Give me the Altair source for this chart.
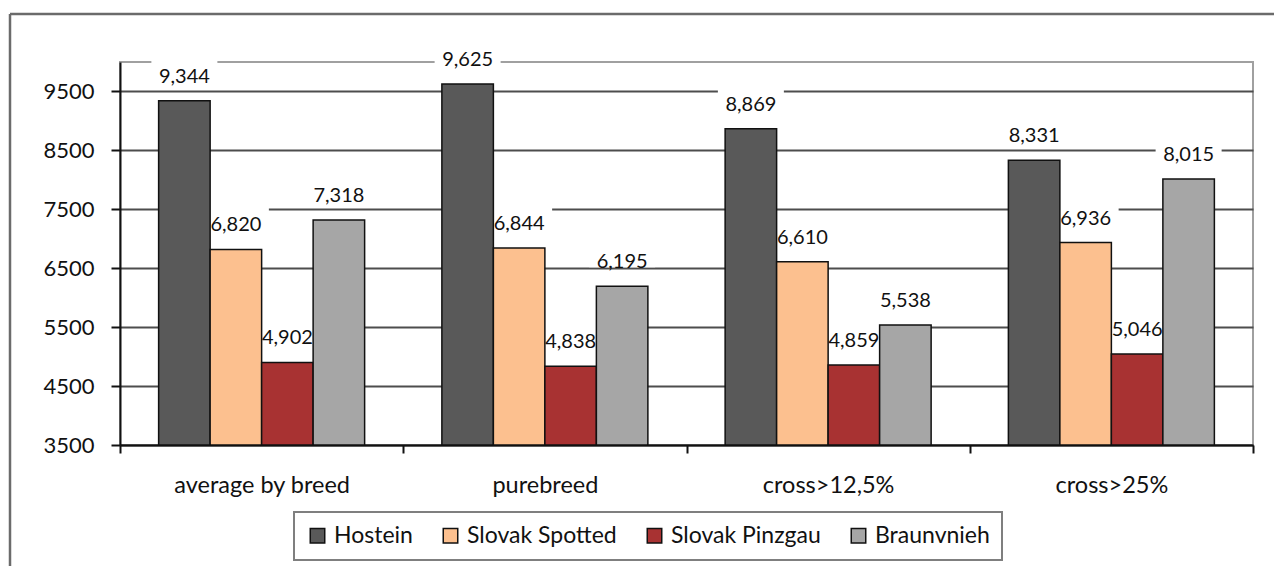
import altair as alt
import pandas as pd

categories = ["average by breed", "purebreed", "cross>12,5%", "cross>25%"]
series = ["Hostein", "Slovak Spotted", "Slovak Pinzgau", "Braunvnieh"]
hostein = [9344, 9625, 8869, 8331]
slovak_spotted = [6820, 6844, 6610, 6936]
slovak_pinzgau = [4902, 4838, 4859, 5046]
braunvnieh = [7318, 6195, 5538, 8015]
y_ticks = [3500, 4500, 5500, 6500, 7500, 8500, 9500]
colors = ["#595959", "#FCC08F", "#A83232", "#A6A6A6"]

rows = []
for s, vals in zip(series, [hostein, slovak_spotted, slovak_pinzgau, braunvnieh]):
    for c, v in zip(categories, vals):
        rows.append({"category": c, "breed": s, "value": v})
df = pd.DataFrame(rows)

FONT = "Lato"
W, H = 1133, 383

x_enc = alt.X(
    "category:N", sort=categories,
    scale=alt.Scale(paddingInner=0, paddingOuter=0),
    axis=alt.Axis(title=None, labelAngle=0, tickBand="extent", tickSize=8, tickColor="#111",
                  tickWidth=2, domainColor="#111", domainWidth=2, labelFont=FONT,
                  labelFontSize=23.5, labelColor="#111", labelPadding=39,
                  labelBaseline="alphabetic", grid=False),
)
xo = alt.XOffset("breed:N", sort=series, scale=alt.Scale(paddingInner=0, paddingOuter=0.75))
y_enc = alt.Y(
    "value:Q",
    scale=alt.Scale(domain=[3500, 10000], nice=False, zero=False),
    axis=alt.Axis(title=None, values=y_ticks, format="d", grid=True, gridColor="#4d4d4d",
                  gridWidth=2, tickSize=9, tickColor="#111", tickWidth=2, domainColor="#111",
                  domainWidth=2, labelFont=FONT, labelFontSize=22, labelColor="#111",
                  labelPadding=17),
)

boxes = alt.Chart(df).mark_point(
    shape="M-1,-0.35H1V0.35H-1Z", size=66 * 66, filled=True, fill="white",
    opacity=1, strokeWidth=0, yOffset=-30.5,
).encode(x=x_enc, xOffset=xo, y=y_enc)

labels = alt.Chart(df).mark_text(
    font=FONT, fontSize=20, color="#111", baseline="alphabetic", dy=-18,
).encode(x=x_enc, xOffset=xo, y=y_enc, text=alt.Text("value:Q", format=",d"))

bars = alt.Chart(df).mark_bar(stroke="#111", strokeWidth=1.5).encode(
    x=x_enc, xOffset=xo, y=y_enc, y2=alt.datum(3500),
    color=alt.Color(
        "breed:N", sort=series,
        scale=alt.Scale(domain=series, range=colors),
        legend=alt.Legend(
            title=None, orient="none", legendX=174, legendY=450, direction="horizontal",
            columns=4, symbolType="square", symbolSize=210, symbolStrokeColor="#111",
            symbolStrokeWidth=1.5, labelFont=FONT, labelFontSize=23, labelColor="#111",
            labelOffset=5, columnPadding=26, padding=12, strokeColor="#7f7f7f",
        ),
    ),
)

frame_src = pd.DataFrame({"k": [0]})
frame_left = alt.Chart(frame_src).mark_rule(color="#6b6b6b", strokeWidth=2.5).encode(
    x=alt.value(-110), y=alt.value(-48), y2=alt.value(520))
frame_top = alt.Chart(frame_src).mark_rule(color="#6b6b6b", strokeWidth=2.5).encode(
    x=alt.value(-110), x2=alt.value(1170), y=alt.value(-48))

chart = alt.layer(boxes, labels, bars, frame_left, frame_top).properties(
    width=W, height=H,
    autosize=alt.AutoSizeParams(type="none"),
    padding={"left": 112, "top": 54, "right": 21, "bottom": 121},
).configure_view(stroke="#a0a0a0", strokeWidth=2).configure_legend(strokeWidth=2)

chart.save("out.html", embed_options={"renderer": "svg", "actions": False})
